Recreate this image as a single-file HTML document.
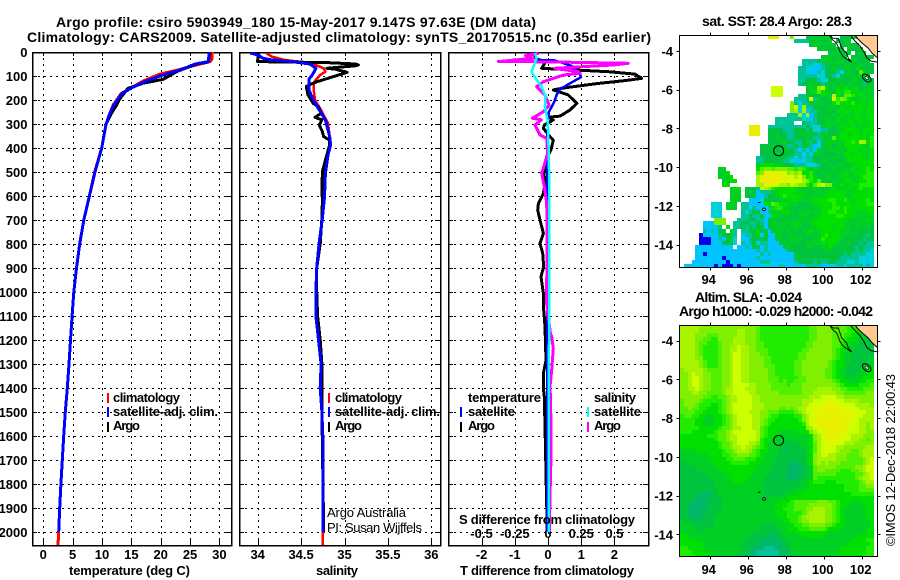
<!DOCTYPE html>
<html>
<head>
<meta charset="utf-8">
<title>Argo profile csiro 5903949_180</title>
<style>
html,body{margin:0;padding:0;background:#fff;}
svg{display:block;}
text{font-family:"Liberation Sans",sans-serif;fill:#000;}
.b{font-weight:bold;font-size:13px;}
.t{font-weight:bold;font-size:14px;}
.r{font-weight:normal;font-size:13px;}
</style>
</head>
<body>
<svg id="chart" xmlns="http://www.w3.org/2000/svg" width="900" height="580" viewBox="0 0 900 580">
<defs>
<clipPath id="clip-p1"><rect x="32" y="52" width="199" height="493"/></clipPath>
<clipPath id="clip-p2"><rect x="239" y="52" width="201" height="493"/></clipPath>
<clipPath id="clip-p3"><rect x="448" y="52" width="200" height="493"/></clipPath>
<clipPath id="clip-m1"><rect x="680" y="36" width="197" height="231"/></clipPath>
<clipPath id="clip-m2"><rect x="680" y="325" width="197" height="232"/></clipPath>
</defs>
<text class="t" x="56" y="27" textLength="480" lengthAdjust="spacing">Argo profile: csiro 5903949_180 15-May-2017 9.147S 97.63E (DM data)</text>
<text class="t" x="27" y="42" textLength="624" lengthAdjust="spacing">Climatology: CARS2009. Satellite-adjusted climatology: synTS_20170515.nc (0.35d earlier)</text>
<g id="layer-grid"></g>
<g id="layer-series"></g>
<g id="layer-maps"></g>

<text class="b" x="69" y="575" textLength="121" lengthAdjust="spacing">temperature (deg C)</text>
<text class="b" x="316" y="575" textLength="42" lengthAdjust="spacing">salinity</text>
<text class="b" x="460" y="575" textLength="174" lengthAdjust="spacing">T difference from climatology</text>
<text class="b" x="459" y="524" textLength="176" lengthAdjust="spacing">S difference from climatology</text>

<g>
<line x1="108" x2="108" y1="393" y2="403" stroke="#f00" stroke-width="2"/>
<line x1="108" x2="108" y1="407" y2="417" stroke="#00f" stroke-width="2"/>
<line x1="108" x2="108" y1="422" y2="432" stroke="#000" stroke-width="2"/>
<text class="b" x="113" y="402" textLength="67">climatology</text>
<text class="b" x="113" y="416" textLength="105">satellite-adj. clim.</text>
<text class="b" x="113" y="430" textLength="27">Argo</text>
</g>
<g>
<line x1="329" x2="329" y1="393" y2="403" stroke="#f00" stroke-width="2"/>
<line x1="329" x2="329" y1="407" y2="417" stroke="#00f" stroke-width="2"/>
<line x1="329" x2="329" y1="422" y2="432" stroke="#000" stroke-width="2"/>
<text class="b" x="335" y="402" textLength="67">climatology</text>
<text class="b" x="335" y="416" textLength="105">satellite-adj. clim.</text>
<text class="b" x="335" y="430" textLength="27">Argo</text>
</g>
<g>
<text class="b" x="468" y="402" textLength="73">temperature</text>
<line x1="461" x2="461" y1="407" y2="417" stroke="#00f" stroke-width="2"/>
<line x1="461" x2="461" y1="422" y2="432" stroke="#000" stroke-width="2"/>
<text class="b" x="468" y="416" textLength="47">satellite</text>
<text class="b" x="468" y="430" textLength="27">Argo</text>
<text class="b" x="594" y="402" textLength="42">salinity</text>
<line x1="588" x2="588" y1="407" y2="417" stroke="#0ff" stroke-width="2"/>
<line x1="588" x2="588" y1="422" y2="432" stroke="#f0f" stroke-width="2"/>
<text class="b" x="594" y="416" textLength="47">satellite</text>
<text class="b" x="594" y="430" textLength="27">Argo</text>
</g>

<text class="r" x="327" y="517" textLength="79" lengthAdjust="spacing">Argo Australia</text>
<text class="r" x="327" y="532" textLength="95" lengthAdjust="spacing">PI: Susan Wijffels</text>

<text class="t" x="702" y="26" textLength="150" lengthAdjust="spacing">sat. SST: 28.4 Argo: 28.3</text>
<text class="t" x="695" y="302" textLength="107" lengthAdjust="spacing">Altim. SLA: -0.024</text>
<text class="t" x="679" y="316" textLength="194" lengthAdjust="spacing">Argo h1000: -0.029 h2000: -0.042</text>
<text class="r" transform="rotate(-90 895 546)" x="895" y="546" textLength="172" lengthAdjust="spacing">©IMOS 12-Dec-2018 22:00:43</text>
</svg>
<script>
// ---- depth axis ----
const depthTicks = [0,100,200,300,400,500,600,700,800,900,1000,1100,1200,1300,1400,1500,1600,1700,1800,1900,2000];

// ---- x axis ticks ----
const tempTicks = [0,5,10,15,20,25,30];
const salTicks = [34,34.5,35,35.5,36];
const salTickLabels = ['34','34.5','35','35.5','36'];
const tDiffTicks = [-2,-1,0,1,2];
const tDiffLabels = ['-2','-1','0','1','2'];
const sDiffTicks = [-0.5,-0.25,0,0.25,0.5];
const sDiffLabels = ['-0.5','-0.25','0','0.25','0.5'];

// ---- temperature panel ----
const tempClimDepth = [0,30,40,50,75,92,121,152,172,221,270,300,400,500,600,700,800,900,1000,1100,1200,1300,1400,1500,1600,1700,1800,1900,2000,2054];
const tempClimValue = [28.8,28.7,28.4,26.7,22.9,19.9,17,14.8,13.3,11.9,11.1,10.7,9.95,8.75,7.85,6.9,6.2,5.65,5.2,4.9,4.63,4.38,4.09,3.75,3.47,3.24,3.0,2.79,2.62,2.5];
const tempArgoDepth = [0,42,50,82,114,130,152,200,220,256,300,400,500,600,700,800,900,1000,1100,1200,1300,1400,1500,1600,1700,1800,1900,2000];
const tempArgoValue = [28.4,28.1,26.1,22.7,20.4,17,14.4,12.9,12.5,11.6,10.7,9.95,8.8,7.85,6.9,6.2,5.65,5.2,4.9,4.63,4.38,4.09,3.75,3.47,3.24,3.0,2.79,2.62];
const tempSatDepth = [0,40,50,75,96,120,150,175,225,270,300,400,500,600,700,800,900,1000,1100,1200,1300,1400,1500,1600,1700,1800,1900,2000];
const tempSatValue = [28.3,28.1,25.9,23.3,20.4,17.6,15,13.3,11.9,11.1,10.7,9.95,8.8,7.85,6.9,6.2,5.65,5.2,4.9,4.63,4.38,4.09,3.75,3.47,3.24,3.0,2.79,2.62];

// ---- salinity panel ----
const salClimDepth = [5,19,33,40,50,68,82,96,124,158,200,242,297,353,387,429,505,603,693,800,900,1000,1100,1200,1300,1400,1500,1600,2000,2054];
const salClimValue = [34.1,34.16,34.31,34.47,34.64,34.76,34.78,34.72,34.65,34.645,34.66,34.73,34.81,34.83,34.84,34.81,34.78,34.77,34.745,34.706,34.68,34.67,34.67,34.7,34.73,34.72,34.74,34.75,34.75,34.75];
const salArgoDepth = [5,6,33,40,44,50,54,58,62,68,72,85,105,124,133,144,179,214,228,255,272,283,304,332,353,367,387,450,499,575,617,693,800,900,1000,1100,1200,1300,1400,1500,2000];
const salArgoValue = [33.91,34.01,34.0,34.0,34.8,35.13,35.16,35.12,34.98,34.8,34.9,35.03,34.85,34.68,34.62,34.56,34.58,34.64,34.7,34.73,34.66,34.74,34.71,34.745,34.76,34.83,34.83,34.78,34.745,34.74,34.745,34.74,34.72,34.68,34.68,34.69,34.72,34.74,34.74,34.74,34.76];
const salSatDepth = [5,12,26,33,40,50,68,89,114,158,200,242,283,353,387,429,505,603,693,800,900,1000,1100,1200,1300,1400,1500,1600,2000];
const salSatValue = [33.92,34.0,34.06,34.16,34.39,34.6,34.67,34.64,34.59,34.59,34.64,34.71,34.78,34.83,34.84,34.81,34.78,34.77,34.745,34.706,34.68,34.67,34.67,34.7,34.73,34.72,34.74,34.75,34.75];

// ---- difference panel ----
const tArgoDepth = [5,26,40,50,68,82,92,110,119,131,149,158,179,214,242,267,272,283,304,318,353,367,408,429,478,506,547,589,631,659,700,756,797,839,895,936,1006,1075,1145,1284,1339,1402,1436,1561,2000];
const tArgoDiff = [-0.39,-0.39,-0.1,-0.11,-0.19,1.82,2.62,2.82,2.32,1.52,0.51,0.16,0.61,0.87,0.66,0.36,0.01,0.16,-0.11,-0.14,0.06,0.16,0.09,0.01,-0.09,-0.12,-0.09,-0.14,-0.29,-0.31,-0.24,-0.14,-0.24,-0.16,-0.13,-0.21,-0.14,-0.13,-0.09,-0.06,-0.14,-0.14,-0.11,-0.09,-0.02];
const tSatDepth = [33,35,58,89,105,131,155,179,207,249,283,400,600,1000,1500,2000];
const tSatDiff = [-0.3,0.2,0.71,0.96,0.99,0.66,0.36,0.26,0.19,0.03,-0.01,-0.02,-0.03,-0.02,-0.02,-0.02];
const sArgoDepth = [5,15,26,40,41,47,54,60,68,82,89,96,124,144,179,221,249,276,283,304,346,360,422,485,505,561,630,693,1050,1172,1186,1235,1325,1394,1436,1575,1670,1853,2000];
const sArgoDiff = [-0.07,-0.17,-0.11,-0.373,-0.02,0.604,0.49,0.3,0.05,0.228,0.24,0.115,-0.035,-0.085,-0.023,0.008,-0.035,-0.118,-0.05,-0.098,-0.06,-0.01,-0.003,-0.035,-0.048,-0.028,-0.01,-0.008,-0.01,0.018,0.028,0.04,0.028,0.015,0.018,0.023,0.023,0.015,0.01];
const sSatDepth = [5,26,82,117,144,186,228,283,367,505,1000,2000];
const sSatDiff = [-0.098,-0.085,-0.123,-0.085,-0.048,-0.018,-0.023,-0.003,0.003,0.008,0.008,0.005];

// ---- map axes ----
const lonTicks = [94,96,98,100,102];
const latTicks = [-4,-6,-8,-10,-12,-14];
const argoLon = [97.63];
const argoLat = [-9.147];

// ---- colour levels: hex digit per 0.2 degree cell, '.' = no data ----
const levelColors = ['#0000f0','#0090ff','#00c4ff','#00d0d8','#00c498','#00b868','#00c440','#00d024','#00e000','#20ec00','#50f000','#80f000','#a8f400','#ccff00','#e4f400','#e8f000'];
const sstRows = [
".......... .......... ...fff...b ...6676777 ..66676...",
".......... .......... .......... 4444677667 .6667.....",
".......... .......... .......... ....677677 6.66766...",
".......... .......... .......... ......6776 676.6667..",
".......... .......... .......... .........6 77667.667.",
".......... .......... .......... .......677 6766.66666",
".......... .......... .......... ..44446677 6776676667 .",
".......... .......... .......... ..44432466 7667766776 6",
".......... .......... .......... .443322466 7667768766 6",
".......... .......... .......... .443224356 6436766a76 6",
".......... .......... .......... .444443356 4366776767 .",
".......... .......... .......... .446664336 6766677664 6",
".......... .......... .......... .466776466 7676776747 7",
".......... .......... ....ddd... ...677bd86 6878778676 7",
".......... .......... ....ddd... ...678a877 6879978777 7",
".......... .......... ....ddd... .447666867 c87aa97877 7",
".......... .......... .......... 4446e47567 d9ba877787 7",
".......... .......... .........b 4344777766 8a88897877 8",
".......... .......... .........b d3c4466677 7687788878 8",
".......... .......... .........b c3c2447667 6878878878 7",
".......... .......... ........44 4c3c246676 7687778778 8",
".......... .......... .....44444 4433246677 6877878878 8",
".......... .......... .....44444 ..64446677 7777887877 8",
".......... ........ff f..4444444 4446433677 6788787778 8",
".......... ........ff f..6665444 6764633446 6778888788 8",
".......... ........ff f..6676644 6676664776 6788788787 8",
".......... .......... ...6676644 6667644767 a788888887 9",
".......... .......... ...6667766 4467462677 7778898cc8 9",
".......... .......... .666766644 6466423677 6778888877 9",
".......... .......... .666666766 4243427667 7776888787 8",
".......... .......... .666676666 4434277666 6778878877 8",
".......... .......... 4466666644 3424466676 7767888877 8",
".......... .......... 4466666443 2234466776 6667888888 8",
".......... .......... 7888877666 4443334667 6776678888 8",
".......... 77........ 8abbabbbaa 9a97777666 7677787889 8",
".......... 778....... abffeeedbc bc88966767 7778778889 9",
".......... 7778...... cfffffffdd cdb8986677 6778777899 9",
".......... .7788..... cfffffeeee ddcb98a776 7778877889 9",
".......... .88....... ccffdeccbd cbb97acdbb 7787788999 9",
".......... ...688.666 4dcb988888 8777777667 8777878988 8",
".......... ...777.666 2444778888 7777677778 8888778878 8",
".......... ...777.666 2246678988 8877777788 8887788888 8",
".......... ...777..22 2366667778 8777788889 9889878889 8",
"........33 3.777.4422 2288a98887 7666778888 9888878889 9",
"........33 3.777.4434 2224899776 6667677888 9989888888 8",
"........33 3.....4346 6224777887 6777777889 9889887778 8",
"........33 3.....4464 4622877676 6777677888 8998887777 7",
".........b bb...44466 4426766767 7776778888 8888776778 7",
"......222b bb..446644 6426776777 7767788888 8887777767 7",
"......2222 4.8.446464 6626777767 7766778888 7887767767 6",
"......4242 66.74.4466 8662677676 7677877888 8877767666 6",
".....02222 46674.2446 7262277677 6667767898 8877776664 6",
".....00022 42673.2246 6662267667 7766677988 8876666646 6",
".....00022 26672.4246 2442226767 6667777878 8766766464 4",
"....222222 2222.22426 6242222676 6667766778 7667664644 4",
"....222222 2222222222 4242222266 6666666676 6666664644 3",
"....220222 2222222222 2424222222 6666666666 6664644443 3",
"....222222 2022222222 4222222222 6666666666 6644444333 3",
"...2222222 2202222222 2444222222 4666646446 6444334332 3",
".222222220 2000202222 2233224222 2224444222 2443444434 3"
];
const slaRows = [
"cccccbbbbb bbbbbbbbbb a999999999 9999aabbbb baaa998887 7",
"cccccbbbbb bbbbbccbbb a999999999 9999aabbbb aaaa998887 7",
"ccccbbbaaa bbbbbccbbb a999999999 9999aabbbb aaa9988777 7",
"ccccbbaa99 bbbbcccbbb a999999999 9999aabbbb aaa9887776 6",
"ccccbaa999 abbbcccbbb aa99999999 999aabbbbb aa98877666 6",
"ccccba9999 abbccdccbb aa99999999 999aabbbbb aa98776666 6",
"ccccba9999 abbccdccbb aaa9999999 99aabbbbbb a988776666 6",
"ccccba9999 abbcddccbb baa9999999 9aabbbbbbb a987766666 6",
"ccccbb9999 abbcddccbb bbaa999999 9aabbbbbbb a987766666 7",
"cccccba999 abbcddccbb bbaa999999 aabbbbbbba 9887766667 7",
"cccccba999 abbcddccbb bbaaa99999 aabbbbbbba 9887666677 7",
"bcccccbaaa abbcddccbb bbbaa99999 aabbbbbbaa 9877666777 8",
"bbcdccbbaa abbcddccbb bbbaa99999 aabbbbbbaa 9877667778 8",
"bbcddcbbaa abbcddccbb bbbaaa9999 9aabbbbbaa 9887777788 8",
"bbcddcbbaa abbcddccbb bbbaaa9a99 aaabbbbbbb a988777889 9",
"bbcddcbbaa abbcddddcc bbbbaaaa9a aabbbbbbbb ba98888999 a",
"bbccdcbbaa abccdddccc bbbbaaaaaa aabbbbcccc bbaa9999aa a",
"bbbccbbaaa abccddddcc bbbbbbaaaa aabbbccccc cbbaaaaaab b",
"bbbbbbaa99 aabccddddc cbbbbbbbbb bbbbcccddd dccbbbbbbb b",
"abbbba9999 9abccddddc cbbbbbbbbb bbcccdddde eddccccbbb b",
"abbba99988 9abcdddddc ccbbbbbbbb bbccdddeee eeddddcccc b",
"aabaa99888 9abcdddddc ccbbbbaaba bccddeeeee eeeedddccc c",
"aaaa998888 9abcddddcc cbbaaa9999 abcddeeeff feeeeddddc c",
"9aa9988778 89abcddddc cbba998888 99bcddeeff ffeeeeddcc c",
"9999887778 89abcddddc cba9988888 89bcdeefff ffeeeddccc c",
"9999887778 89abcddddc cba9888888 889cdeefff fffeeddccb c",
"9999988888 9aabccdddc ca98888888 888bcdeeff ffeedddccb c",
"9998888889 aabcdddddd ca98887777 7888bcdeef ffeedddccb b",
"8888888999 aabccddddd ca98877777 77778bcdee feeddcccbb b",
"8888888889 aabccddddd c988777777 77778bcdee eedddccbba b",
"8888888888 9aabcdddcc b987777666 67778acdde eddcccbbbb b",
"8888888888 9aabccdccb a987776666 66778acdde dccbbbbbbc c",
"7777888888 89aabcccba 9887776666 66678acddd dcbbbaabcc c",
"7777777888 899aabbbaa 9877776666 66678bcddc cbbbaaabcc c",
"7777777788 8899aaa999 8877766666 66678bcccc cbbbaaaabc d",
"6677777778 8889999988 8777766665 56678bcbcb bbaaaaaabc d",
"6666777777 8888888888 7777666655 55667abbbb baaaaabbcd d",
"6666677777 7888888888 7777666655 55667abbaa aa999aabcd d",
"6666666777 7788888887 7776666655 55667aaaaa a99999aabc d",
"6666666677 7778888877 7766666655 56677a9999 999999abcc d",
"6666666667 7777888777 7766666666 6677899988 8999999abc c",
"6666666667 7777777777 7766666666 6777888888 8889999aab b",
"6666666666 7777777777 7766666667 7778888888 8889999aaa a",
"6666655566 7777777777 7766666777 7888888888 8888899999 9",
"6666555566 6777777777 7767777788 8888888888 8888888888 8",
"6665555666 6777777777 7777778889 aaaaaabbba a988877888 8",
"6655555666 6777777777 7777788899 aaaabbbbbb a988777788 8",
"6655555666 6777777777 7777788999 aaabbcccbb a987777778 8",
"6655555666 7777777777 7777788899 99abccccbb a987777778 8",
"6655556667 7777777777 7777778899 9abcccccbb a987777778 8",
"7666666667 7777777777 7777777889 9abbccccbb a987777777 8",
"7776666667 7777777777 7666677788 99aabbbbaa 9887777777 8",
"7777666777 7777777777 7666667788 8999aaaa98 8877777778 8",
"7777777777 7777777776 6666666777 8888888887 7777777778 8",
"8877777777 7777777766 6665566777 7788888877 7777777888 8",
"8888777777 7777777666 6555556677 7777777777 7777788889 9",
"8888887777 7777776666 5555555667 7777777777 7777888888 9",
"9988887777 7777776665 5544455667 7777777777 7788888889 9",
"9998888777 7777766655 4444445566 7777777777 7788888889 9",
"9999888877 7777766555 4444445566 7777777777 7888888899 9"
];

// ---- scales ----
const NS = 'http://www.w3.org/2000/svg';
const gridLayer = document.getElementById('layer-grid');
const seriesLayer = document.getElementById('layer-series');
const mapLayer = document.getElementById('layer-maps');
const yDepth = d => 52 + 0.24 * d;
const xTemp = t => 43.3 + 5.87 * t;
const xSal = s => 257.7 + 86.8 * (s - 34);
const xTDiff = t => 548 + 33.2 * t;
const xSDiff = s => 548 + 133 * s;
const xLon = lon => 709.7 + 19 * (lon - 94);
const ySst = lat => 51 + 19.37 * (-4 - lat);
const ySla = lat => 340.7 + 19.37 * (-4 - lat);

function make(tag, parent, props) {
  const el = document.createElementNS(NS, tag);
  for (const k in props) el.setAttribute(k, props[k]);
  parent.appendChild(el);
  return el;
}
function seg(parent, x1, y1, x2, y2, extra) {
  return make('line', parent, Object.assign({x1: x1, y1: y1, x2: x2, y2: y2, stroke: '#000', 'stroke-width': 1, 'shape-rendering': 'crispEdges'}, extra || {}));
}
function label(parent, cls, x, y, anchor, str) {
  const t = make('text', parent, {class: cls, x: x, y: y, 'text-anchor': anchor});
  t.textContent = str;
  return t;
}

function drawPanel(left, right, xs) {
  const top = 52, bottom = 545;
  depthTicks.forEach(d => {
    const y = Math.round(yDepth(d));
    if (d > 0) {
      const g = seg(gridLayer, left, y + 0.5, right, y + 0.5, {'stroke-dasharray': '2 4'});
      
      
    }
    const a = seg(gridLayer, left, y + 0.5, left + 5, y + 0.5);
    
    
    const b = seg(gridLayer, right - 5, y + 0.5, right, y + 0.5);
    
    
  });
  xs.forEach(v => {
    const x = Math.round(v);
    const g = seg(gridLayer, x + 0.5, top, x + 0.5, bottom, {'stroke-dasharray': '2 4'});
    
    
    const a = seg(gridLayer, x + 0.5, bottom - 5, x + 0.5, bottom);
    
    
    const b = seg(gridLayer, x + 0.5, top, x + 0.5, top + 4);
    
    
  });
}

drawPanel(32, 231, tempTicks.map(xTemp));
drawPanel(239, 440, salTicks.map(xSal));
drawPanel(448, 648, tDiffTicks.map(xTDiff));

[[32, 199], [239, 201], [448, 200]].forEach(p => {
  const frame = make('rect', gridLayer, {x: p[0] + 0.5, y: 52.5, width: p[1], height: 493, fill: 'none', stroke: '#000', 'stroke-width': 1.5, 'shape-rendering': 'crispEdges'});
  
  
});

depthTicks.forEach(d => {
  const t = label(gridLayer, 'b', 27.5, yDepth(d) + 5, 'end', String(d));
  
  
});
tempTicks.forEach(v => {
  const t = label(gridLayer, 'b', xTemp(v), 559, 'middle', String(v));
  
  
});
salTicks.forEach((v, i) => {
  const t = label(gridLayer, 'b', xSal(v), 559, 'middle', salTickLabels[i]);
  
  
});
tDiffTicks.forEach((v, i) => {
  const t = label(gridLayer, 'b', xTDiff(v), 559, 'middle', tDiffLabels[i]);
  
  
});
sDiffTicks.forEach((v, i) => {
  const t = label(gridLayer, 'b', xSDiff(v), 538, 'middle', sDiffLabels[i]);
  
  
});

function series(clip, depth, values, xf, color, width) {
  const pts = depth.map((d, i) => xf(values[i]).toFixed(1) + ',' + yDepth(d).toFixed(1)).join(' ');
  return make('polyline', seriesLayer, {points: pts, fill: 'none', stroke: color, 'stroke-width': width, 'clip-path': 'url(#' + clip + ')', 'stroke-linejoin': 'round', 'shape-rendering': 'crispEdges'});
}
let s;
s = series('clip-p1', tempClimDepth, tempClimValue, xTemp, '#f00', 3);


s = series('clip-p1', tempArgoDepth, tempArgoValue, xTemp, '#000', 3);


s = series('clip-p1', tempSatDepth, tempSatValue, xTemp, '#00f', 3);


s = series('clip-p2', salClimDepth, salClimValue, xSal, '#f00', 2.5);


s = series('clip-p2', salArgoDepth, salArgoValue, xSal, '#000', 3);


s = series('clip-p2', salSatDepth, salSatValue, xSal, '#00f', 3);


s = series('clip-p3', tArgoDepth, tArgoDiff, xTDiff, '#000', 3);


s = series('clip-p3', tSatDepth, tSatDiff, xTDiff, '#00f', 2.5);


s = series('clip-p3', sArgoDepth, sArgoDiff, xSDiff, '#f0f', 3);


s = series('clip-p3', sSatDepth, sSatDiff, xSDiff, '#0ff', 2.5);



function drawCells(rows, yLat, name, clip) {
  const g = make('g', mapLayer, {'clip-path': 'url(#' + clip + ')', 'shape-rendering': 'crispEdges'});
  
  
  rows.forEach((raw, r) => {
    const row = raw.replace(/ /g, '');
    const lat0 = -3.2 - 0.2 * r;
    const lat1 = lat0 - 0.2;
    for (let c = 0; c < 51; c++) {
      const ch = row[c] || row[row.length - 1];
      if (ch === '.') continue;
      const level = parseInt(ch, 16);
      const lon0 = 92.45 + 0.2 * c;
      const x0 = Math.round(xLon(lon0));
      const x1 = Math.round(xLon(lon0 + 0.2));
      const y0 = Math.round(yLat(lat0));
      const y1 = Math.round(yLat(lat1));
      const cell = make('rect', g, {x: x0, y: y0, width: x1 - x0, height: y1 - y0, fill: levelColors[level]});
      
      
    }
  });
}
drawCells(sstRows, ySst, 'sst-heatmap', 'clip-m1');
drawCells(slaRows, ySla, 'sla-heatmap', 'clip-m2');

function drawMapDecor(offset, clip, yLat, titleName) {
  const g = make('g', mapLayer, {'clip-path': 'url(#' + clip + ')'});
  
  
  const tr = 'translate(0,' + offset + ')';
  const land = make('polygon', g, {points: '855,35 860,41.7 868,48 877,57 877,35', fill: '#ffc890', transform: tr});
  
  
  const coastA = make('polyline', g, {points: '855,35.3 858,39 862,43 868,48 872,53 877,57.5', fill: 'none', stroke: '#000', transform: tr});
  
  
  const coastB = make('polyline', g, {points: '851,36.5 855,41 860,46 864,52 867,58 871,61 877,62', fill: 'none', stroke: '#000', transform: tr});
  
  
  const chain = make('polygon', g, {points: '830,36 833.3,38.3 838.3,38.3 840,43.3 841.7,48.3 846.7,53.3 848.3,58.3 851.7,62.3 848.3,60 843.3,56.7 840,51.7 836.7,43.3 832.7,40', fill: 'none', stroke: '#000', 'stroke-width': 0.9, transform: tr});
  
  
  const isle = make('ellipse', g, {cx: 866.7, cy: 78, rx: 5, ry: 3, fill: 'none', stroke: '#000', transform: tr + ' rotate(40 866.7 78)'});
  
  
  const isleCore = make('ellipse', g, {cx: 866.7, cy: 78, rx: 2, ry: 1.2, fill: '#ffe0c0', stroke: '#000', 'stroke-width': 0.6, transform: tr + ' rotate(40 866.7 78)'});
  
  
  const dot = make('circle', g, {cx: 764, cy: 209.3, r: 1.3, fill: '#fff', stroke: '#000', transform: tr});
  
  
  const dash = make('line', g, {x1: 758, x2: 760.5, y1: 202.5, y2: 202.5, stroke: '#000', transform: tr});
  
  
  const marker = make('circle', g, {cx: xLon(argoLon[0]), cy: yLat(argoLat[0]), r: 5, fill: 'none', stroke: '#000', 'stroke-width': 1});
  
  
}
drawMapDecor(0, 'clip-m1', ySst, 'sst-map-overlay');
drawMapDecor(289.7, 'clip-m2', ySla, 'sla-map-overlay');

function drawMapAxes(top, bottom, yLat, labelY) {
  const left = 679.5, right = 877.5;
  const frame = make('rect', mapLayer, {x: left, y: top, width: right - left, height: bottom - top, fill: 'none', stroke: '#000', 'stroke-width': 1.2, 'shape-rendering': 'crispEdges'});
  
  
  lonTicks.forEach(lon => {
    const x = Math.round(xLon(lon)) + 0.5;
    const a = seg(mapLayer, x, top - 3, x, top);
    
    
    const b = seg(mapLayer, x, bottom, x, bottom + 3);
    
    
    const t = label(mapLayer, 'b', xLon(lon) - 1, labelY, 'middle', String(lon));
    
    
  });
  latTicks.forEach(lat => {
    const y = Math.round(yLat(lat)) + 0.5;
    const a = seg(mapLayer, left - 3, y, left, y);
    
    
    const b = seg(mapLayer, right, y, right + 3, y);
    
    
    const t = label(mapLayer, 'b', 673, yLat(lat) + 5, 'end', String(lat));
    
    
  });
}
drawMapAxes(35.5, 267.5, ySst, 284);
drawMapAxes(325.5, 556.5, ySla, 574);
</script>
</body>
</html>
